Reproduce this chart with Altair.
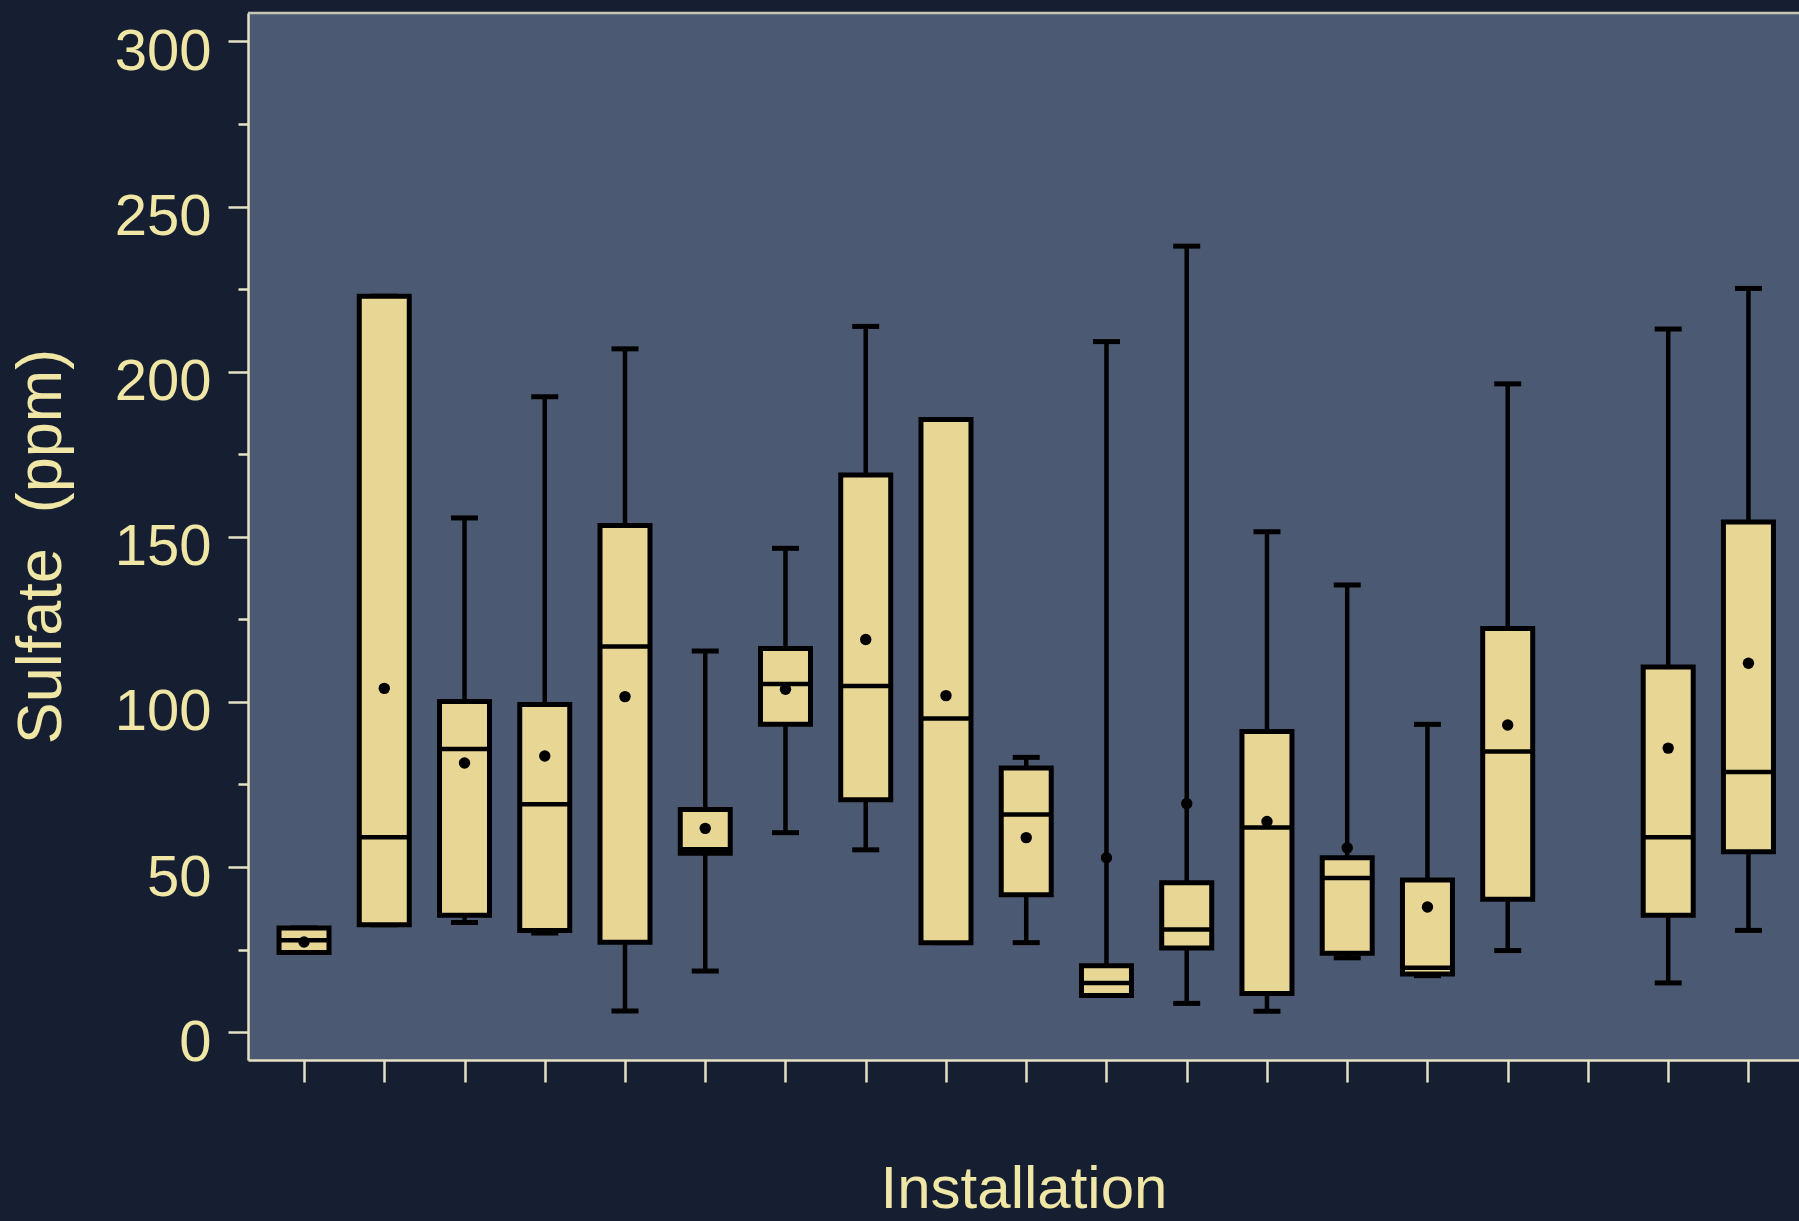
import altair as alt
import pandas as pd

# Sulfate concentration summaries per installation (ppm)
installation = [1, 2, 3, 4, 5, 6, 7, 8, 9, 10, 11, 12, 13, 14, 15, 16, 18, 19]
whisker_low = [24.1, 32.5, 33.2, 30.0, 6.4, 18.5, 60.4, 55.2, 27.1, 27.1, 11.1, 8.7, 6.3, 22.5, 17.1, 24.7, 14.9, 30.8]
q1 = [24.1, 32.5, 35.4, 30.8, 27.2, 54.2, 93.2, 70.4, 27.1, 41.6, 11.1, 25.5, 11.7, 23.9, 17.6, 40.2, 35.4, 54.6]
median = [27.8, 59.0, 85.7, 69.0, 116.8, 55.4, 105.4, 104.8, 95.0, 65.9, 14.9, 31.1, 62.0, 46.7, 19.5, 85.0, 59.0, 78.8]
q3 = [31.5, 222.8, 100.1, 99.2, 153.4, 67.4, 116.2, 168.7, 185.5, 80.0, 20.1, 45.2, 91.0, 52.8, 46.1, 122.2, 110.6, 154.5]
whisker_high = [31.5, 222.8, 155.7, 192.4, 206.9, 115.4, 146.5, 213.7, 185.5, 83.2, 209.1, 238.0, 151.5, 135.4, 93.2, 196.3, 212.9, 225.2]
mean = [27.3, 104.1, 81.5, 83.6, 101.6, 61.7, 103.8, 118.9, 101.9, 58.9, 52.8, 69.2, 63.8, 55.8, 37.9, 93.0, 86.0, 111.7]

x_ticks = list(range(1, 20))
y_ticks = list(range(0, 301, 25))

df = pd.DataFrame({
    "installation": installation,
    "lo": whisker_low,
    "q1": q1,
    "median": median,
    "q3": q3,
    "hi": whisker_high,
    "mean": mean,
})

BG = "#151f31"
PANEL = "#4b5a72"
BOX = "#e8d794"
INK = "#000000"
TEXT = "#f0e6a6"
AXIS = "#e6e2c6"
FONT = "Liberation Sans"

W, H = 1551, 1047

x_enc = alt.X(
    "installation:Q",
    scale=alt.Scale(domain=[0.302, 19.63], nice=False, zero=False, padding=0),
    axis=alt.Axis(
        values=x_ticks,
        labels=False,
        grid=False,
        tickSize=22,
        title="Installation",
        titleFontSize=60,
        titleFontWeight="normal",
        titleBaseline="alphabetic",
        titleY=147,
    ),
)
y_scale = alt.Scale(domain=[-8.44, 308.6], nice=False, zero=False, padding=0)
y_axis = alt.Axis(
    values=y_ticks,
    grid=False,
    labelExpr="datum.value % 50 === 0 ? datum.label : ''",
    tickSize=alt.condition("datum.value % 50 === 0", alt.value(20), alt.value(10)),
    labelFontSize=58,
    labelPadding=17,
    labelBaseline="middle",
    labelOffset=11,
    title="Sulfate\u00a0\u00a0(ppm)",
    titleFontSize=63,
    titleFontWeight="normal",
    titleAngle=270,
    titleBaseline="alphabetic",
    titleAlign="center",
    titleX=-188,
    titleY=533,
)

base = alt.Chart(df)

whiskers = base.mark_rule(color=INK, strokeWidth=4.5, opacity=1).encode(
    x=x_enc,
    y=alt.Y("lo:Q", scale=y_scale, axis=y_axis),
    y2="hi:Q",
)

caps_low = base.mark_tick(orient="horizontal", color=INK, size=27, thickness=5, opacity=1).encode(
    x="installation:Q", y="lo:Q"
)
caps_high = base.mark_tick(orient="horizontal", color=INK, size=27, thickness=5, opacity=1).encode(
    x="installation:Q", y="hi:Q"
)

boxes = base.mark_bar(size=50, color=BOX, stroke=INK, strokeWidth=5, opacity=1).encode(
    x="installation:Q", y="q1:Q", y2="q3:Q"
)

medians = base.mark_tick(orient="horizontal", color=INK, size=52, thickness=4.5, opacity=1).encode(
    x="installation:Q", y="median:Q"
)

means = base.mark_point(shape="circle", filled=True, color=INK, size=130, opacity=1).encode(
    x="installation:Q", y="mean:Q"
)

frame_top = alt.Chart(pd.DataFrame({"edge": [0]})).mark_rule(
    color="#c4c6b8", strokeWidth=2.5
).encode(x=alt.value(0), x2=alt.value(W), y=alt.value(0))

chart = (
    alt.layer(whiskers, caps_low, caps_high, boxes, medians, means, frame_top)
    .properties(
        width=W,
        height=H,
        autosize=alt.AutoSizeParams(type="none"),
        padding={"left": 248, "top": 13, "right": 0, "bottom": 161},
        background=BG,
    )
    .configure_view(fill=PANEL, stroke=None)
    .configure_axis(
        domainColor=AXIS,
        domainWidth=2.5,
        tickColor=AXIS,
        tickWidth=2.5,
        labelColor=TEXT,
        titleColor=TEXT,
        labelFont=FONT,
        titleFont=FONT,
    )
)

chart.save("out.html", embed_options={"renderer": "svg", "actions": False})
